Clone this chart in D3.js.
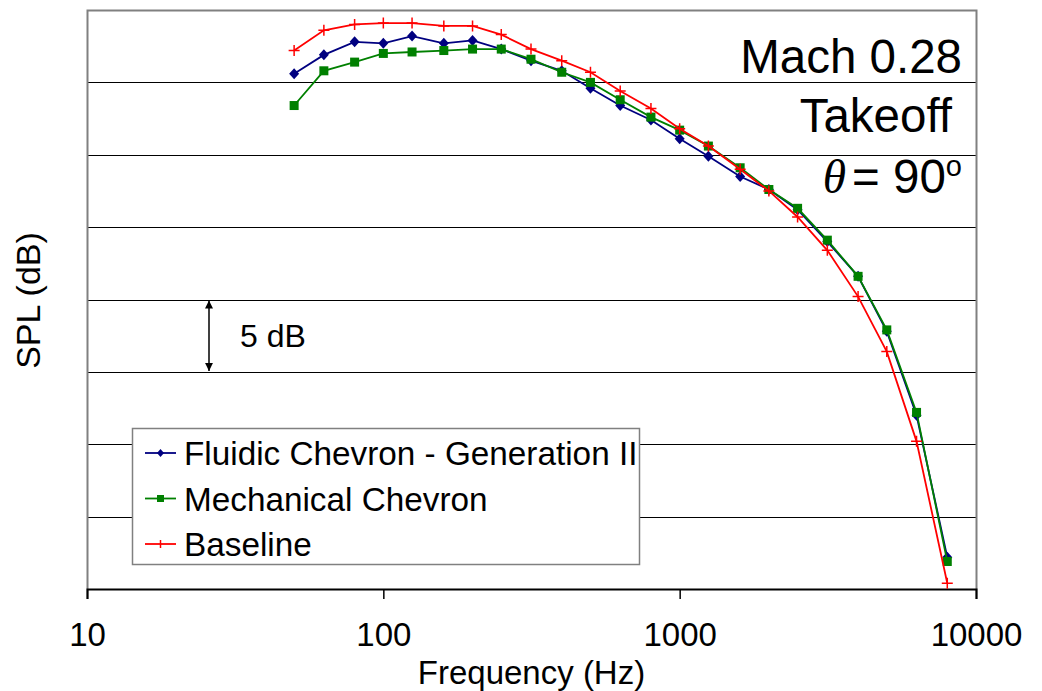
<!DOCTYPE html>
<html>
<head>
<meta charset="utf-8">
<script src="https://cdn.jsdelivr.net/npm/d3@7"></script>
<style>
  body { margin: 0; background: #fff; }
  text { font-family: "Liberation Sans", Arial, sans-serif; fill: #000; }
</style>
</head>
<body>
<div id="chart"></div>
<script>
// one-third octave band centre frequencies (Hz)
const freqs = [50, 63, 80, 100, 125, 160, 200, 250, 315, 400, 500, 630, 800,
  1000, 1250, 1600, 2000, 2500, 3150, 4000, 5000, 6300, 8000];

// relative SPL (dB)
const fluidic = [35.6, 36.9, 37.8, 37.7, 38.2, 37.7, 37.9, 37.3, 36.5, 35.8, 34.6, 33.4, 32.4,
  31.1, 29.9, 28.5, 27.6, 26.2, 24.0, 21.6, 17.8, 12.0, 2.2];
const mechanical = [33.4, 35.8, 36.4, 37.0, 37.1, 37.2, 37.3, 37.3, 36.6, 35.7, 35.0, 33.8, 32.6,
  31.7, 30.6, 29.1, 27.6, 26.3, 24.1, 21.6, 17.9, 12.2, 1.9];
const baseline = [37.2, 38.6, 39.0, 39.1, 39.1, 38.9, 38.9, 38.3, 37.3, 36.5, 35.7, 34.4, 33.2,
  31.8, 30.6, 29.0, 27.5, 25.7, 23.4, 20.2, 16.4, 10.2, 0.4];

const xTicks = [10, 100, 1000, 10000];
const seriesNames = ["Fluidic Chevron - Generation II", "Mechanical Chevron", "Baseline"];

const W = 1042, H = 691;
const margin = { top: 10, right: 66, bottom: 102, left: 87 };
const width = W - margin.left - margin.right;
const height = H - margin.top - margin.bottom;

const svg = d3.select("#chart").append("svg")
  .attr("width", W)
  .attr("height", H);

const g = svg.append("g")
  .attr("transform", `translate(${margin.left},${margin.top})`);

const x = d3.scaleLog().domain([10, 10000]).range([0, width]);
const y = d3.scaleLinear().domain([0, 40]).range([height, 0]);

// gridlines every 5 dB
g.append("g")
  .selectAll("line")
  .data(d3.range(5, 40, 5))
  .join("line")
    .attr("x1", 0).attr("x2", width)
    .attr("y1", d => Math.round(y(d)) + 0.5)
    .attr("y2", d => Math.round(y(d)) + 0.5)
    .attr("stroke", "#000")
    .attr("stroke-width", 1);

// plot frame (top, left, right in grey)
g.append("path")
  .attr("d", `M0.5,${height} V0.5 H${width + 0.5} V${height}`)
  .attr("fill", "none")
  .attr("stroke", "#808080")
  .attr("stroke-width", 2);

// x axis
const xAxis = g.append("g")
  .attr("transform", `translate(0,${height})`)
  .call(d3.axisBottom(x).tickValues(xTicks).tickFormat(d3.format("d")).tickSize(10).tickPadding(24));
xAxis.select(".domain").attr("stroke", "#000").attr("stroke-width", 2);
xAxis.selectAll(".tick line").attr("stroke", "#000").attr("stroke-width", 1.5);
xAxis.selectAll(".tick text")
  .attr("font-family", "Liberation Sans, Arial, sans-serif")
  .attr("font-size", 33);

// axis titles
svg.append("text")
  .attr("x", margin.left + x(Math.sqrt(10 * 10000)))
  .attr("y", 684)
  .attr("text-anchor", "middle")
  .attr("font-size", 33)
  .text("Frequency (Hz)");

svg.append("text")
  .attr("transform", `translate(40,${margin.top + height / 2 + 1}) rotate(-90)`)
  .attr("text-anchor", "middle")
  .attr("font-size", 34)
  .text("SPL (dB)");

// 5 dB scale arrow
const defs = svg.append("defs");
defs.append("marker")
  .attr("id", "ah")
  .attr("viewBox", "0 0 10 10")
  .attr("refX", 10).attr("refY", 5)
  .attr("markerWidth", 8).attr("markerHeight", 14)
  .attr("markerUnits", "userSpaceOnUse")
  .attr("orient", "auto-start-reverse")
  .append("path")
    .attr("d", "M0,0 L10,5 L0,10 Z")
    .attr("fill", "#000");

const arrowX = 122;
g.append("line")
  .attr("x1", arrowX).attr("x2", arrowX)
  .attr("y1", y(20) + 1).attr("y2", y(15) - 1)
  .attr("stroke", "#000")
  .attr("stroke-width", 1.5)
  .attr("marker-start", "url(#ah)")
  .attr("marker-end", "url(#ah)");

g.append("text")
  .attr("x", 153)
  .attr("y", (y(20) + y(15)) / 2 + 11)
  .attr("font-size", 32)
  .text("5 dB");

// series
const series = [
  { name: seriesNames[0], values: fluidic, color: "#000080", shape: "diamond" },
  { name: seriesNames[1], values: mechanical, color: "#008000", shape: "square" },
  { name: seriesNames[2], values: baseline, color: "#FF0000", shape: "plus" }
];

const line = d3.line()
  .x(d => x(d[0]))
  .y(d => y(d[1]));

function drawMarker(sel, shape, color) {
  if (shape === "diamond") {
    sel.append("path")
      .attr("d", "M0,-5.5 L5,0 L0,5.5 L-5,0 Z")
      .attr("fill", color);
  } else if (shape === "square") {
    sel.append("rect")
      .attr("x", -4.5).attr("y", -4.5)
      .attr("width", 9).attr("height", 9)
      .attr("fill", color);
  } else {
    sel.append("path")
      .attr("d", "M-5.5,0 H5.5 M0,-5.5 V5.5")
      .attr("stroke", color)
      .attr("stroke-width", 1.5);
  }
}

series.forEach(s => {
  const pts = freqs.map((f, i) => [f, s.values[i]]);
  g.append("path")
    .attr("d", line(pts))
    .attr("fill", "none")
    .attr("stroke", s.color)
    .attr("stroke-width", 1.8);
  g.append("g")
    .selectAll("g")
    .data(pts)
    .join("g")
      .attr("transform", d => `translate(${x(d[0])},${y(d[1])})`)
      .each(function() { drawMarker(d3.select(this), s.shape, s.color); });
});

// annotation
svg.append("text")
  .attr("x", 962).attr("y", 73)
  .attr("text-anchor", "end")
  .attr("font-size", 47.5)
  .text("Mach 0.28");

svg.append("text")
  .attr("x", 952).attr("y", 132)
  .attr("text-anchor", "end")
  .attr("font-size", 47.5)
  .text("Takeoff");

const theta = svg.append("text")
  .attr("x", 962).attr("y", 193)
  .attr("text-anchor", "end")
  .attr("font-size", 47.5);
theta.append("tspan")
  .attr("font-family", "Liberation Serif, Times New Roman, serif")
  .attr("font-style", "italic")
  .text("θ");
theta.append("tspan").attr("dx", 6).text("= 90");
theta.append("tspan")
  .attr("font-size", 29)
  .attr("dy", -17)
  .text("o");

// legend
const legend = svg.append("g").attr("transform", "translate(132,428)");
legend.append("rect")
  .attr("x", 0.5).attr("y", 0.5)
  .attr("width", 507).attr("height", 136)
  .attr("fill", "#fff")
  .attr("stroke", "#808080")
  .attr("stroke-width", 1.5);

const rows = legend.selectAll("g.row")
  .data(series)
  .join("g")
    .attr("class", "row")
    .attr("transform", (d, i) => `translate(0,${25 + i * 45.5})`);

rows.append("line")
  .attr("x1", 13).attr("x2", 44)
  .attr("stroke", d => d.color)
  .attr("stroke-width", 1.8);
rows.append("g")
  .attr("transform", "translate(28.5,0)")
  .each(function(d) {
    const m = d3.select(this);
    if (d.shape === "diamond") {
      m.append("path").attr("d", "M0,-4 L3.5,0 L0,4 L-3.5,0 Z").attr("fill", d.color);
    } else if (d.shape === "square") {
      m.append("rect").attr("x", -3.5).attr("y", -3.5).attr("width", 7).attr("height", 7).attr("fill", d.color);
    } else {
      m.append("path").attr("d", "M0,-4 V4").attr("stroke", d.color).attr("stroke-width", 1.5);
    }
  });
rows.append("text")
  .attr("x", 52)
  .attr("y", 12)
  .attr("font-size", 33.3)
  .text(d => d.name);
</script>
</body>
</html>
